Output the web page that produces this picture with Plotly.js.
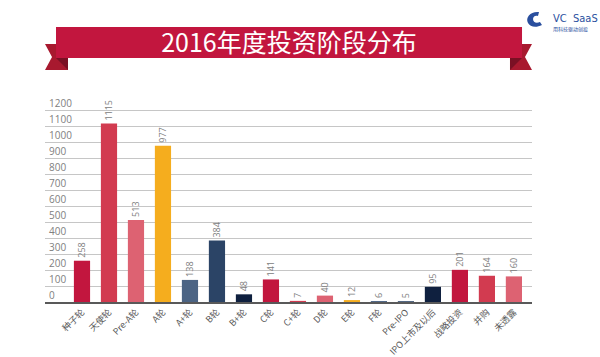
<!DOCTYPE html>
<html>
<head>
<meta charset="utf-8">
<script src="https://cdn.plot.ly/plotly-3.0.1.min.js"></script>
<style>html,body{margin:0;padding:0;background:#fff;}#chart{width:600px;height:357px;}</style>
</head>
<body>
<div id="chart"></div>
<script>
const categories = ["种子轮","天使轮","Pre-A轮","A轮","A+轮","B轮","B+轮","C轮","C+轮","D轮","E轮","F轮","Pre-IPO","IPO上市及以后","战略投资","并购","未透露"];
const values = [258,1115,513,977,138,384,48,141,7,40,12,6,5,95,201,164,160];
const palette = ["#C2163E","#D23B50","#DD6272","#F5AD1E","#4C6484","#2B4466","#0F203F"];
const yTicks = [0,100,200,300,400,500,600,700,800,900,1000,1100,1200];
const titleText = "2016年度投资阶段分布";

const barColors = categories.map((c,i)=>palette[i%palette.length]);

// plot area in pixels (y range extends to 1300 so the 1200 label fits)
const L=45, R=532, T=94, B=302;
const px = x => ((x-L)/(R-L)).toFixed(4);
const py = y => ((B-y)/(B-T)).toFixed(4);
function poly(pts){ return "M " + pts.map(p=>px(p[0])+" "+py(p[1])).join(" L ") + " Z"; }
function shp(path, color){ return {type:"path", xref:"paper", yref:"paper", path:path, fillcolor:color, line:{width:0}, layer:"above"}; }

const logoPath = "M "+px(539)+" "+py(12)+
  " C "+px(531)+" "+py(11)+" "+px(525)+" "+py(17)+" "+px(528)+" "+py(23)+
  " C "+px(530)+" "+py(27)+" "+px(536)+" "+py(28)+" "+px(542)+" "+py(25)+
  " L "+px(540)+" "+py(22)+
  " C "+px(536)+" "+py(24)+" "+px(533)+" "+py(22)+" "+px(533)+" "+py(19)+
  " C "+px(533)+" "+py(16)+" "+px(536)+" "+py(15)+" "+px(538)+" "+py(16)+" Z";

const shapes = [
  shp(poly([[45,44],[68,44],[68,70],[45,70],[52,57]]), "#A8192F"),
  shp(poly([[56,58],[68,58],[68,70]]), "#7A1024"),
  shp(poly([[510,44],[532,44],[525,57],[532,70],[510,70]]), "#A8192F"),
  shp(poly([[510,58],[522,58],[510,70]]), "#7A1024"),
  shp(poly([[56,27],[522,27],[522,58],[56,58]]), "#C2163E"),
  shp(logoPath, "#2A4F9E")
];

const trace = {
  type:"bar",
  x: categories,
  y: values,
  marker:{color: barColors},
  width: 0.6,
  text: values.map(String),
  textposition:"outside",
  textangle:-90,
  constraintext:"none",
  cliponaxis:false,
  textfont:{family:"Open Sans, DejaVu Sans", size:9, color:"#808080"},
  hoverinfo:"none"
};

const layout = {
  width:600, height:357,
  margin:{l:L, r:600-R, t:T, b:357-B, pad:0},
  paper_bgcolor:"#fff", plot_bgcolor:"#fff",
  showlegend:false,
  title:{text:titleText, x:289/600, xanchor:"center", y:1-43/357, yanchor:"middle",
         font:{family:"Noto Sans CJK SC", size:25, color:"#ffffff"}},
  xaxis:{
    type:"category",
    range:[-1.37, 16.67],
    tickangle:-45,
    automargin:false,
    ticklabelstandoff:0,
    tickfont:{family:"Noto Sans CJK SC", size:9, color:"#595959"},
    showline:true, linecolor:"#595959", linewidth:1.5,
    ticks:"", showgrid:false, zeroline:false, fixedrange:true
  },
  yaxis:{
    range:[0,1300],
    automargin:false,
    tickvals:yTicks,
    ticktext:yTicks.map(String),
    ticklabelposition:"inside",
    ticklabelshift:-7,
    ticklabelstandoff:1,
    tickfont:{family:"Open Sans, DejaVu Sans", size:10, color:"#808080"},
    showgrid:true, gridcolor:"#c6c6c6", gridwidth:1,
    zeroline:false, showline:false, ticks:"", fixedrange:true
  },
  shapes: shapes,
  annotations:[
    {xref:"paper", yref:"paper", x:px(551), y:py(19), xanchor:"left", yanchor:"middle", showarrow:false,
     text:"VC  SaaS", font:{family:"DejaVu Sans Condensed, DejaVu Sans", size:11, color:"#2A4F9E"}},
    {xref:"paper", yref:"paper", x:px(551), y:py(29), xanchor:"left", yanchor:"middle", showarrow:false,
     text:"用科技驱动创投", font:{family:"Noto Sans CJK SC", size:5, color:"#2A4F9E"}}
  ]
};

Plotly.newPlot("chart",[trace],layout,{displayModeBar:false, staticPlot:true});
</script>
</body>
</html>
